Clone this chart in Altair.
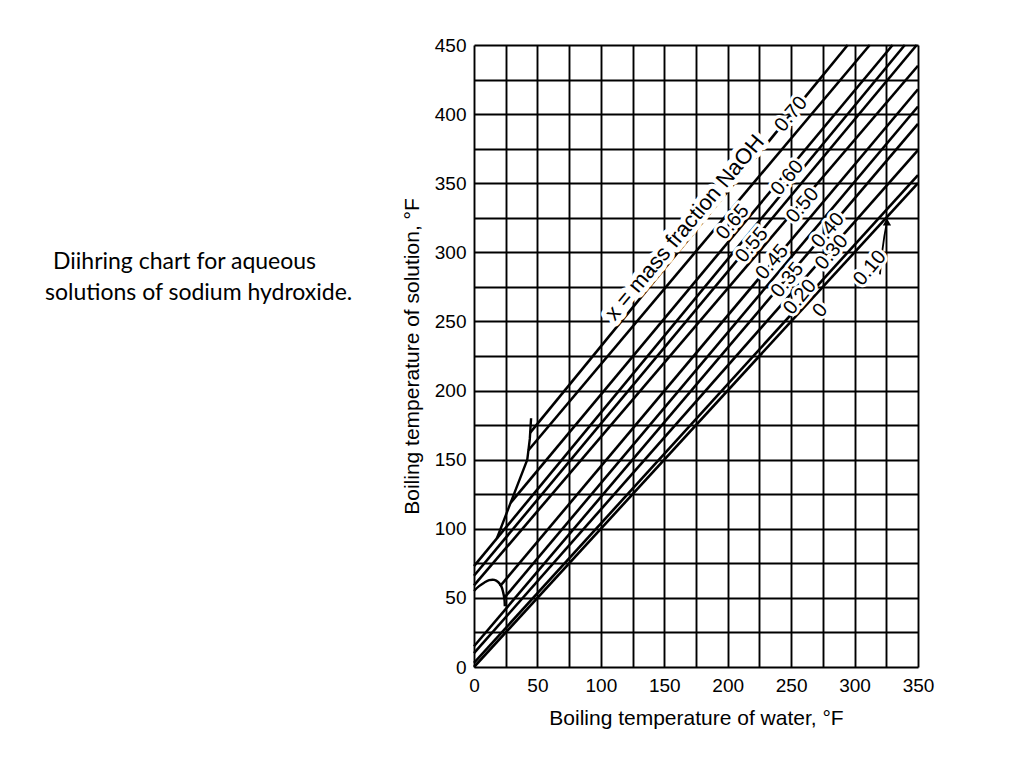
import altair as alt
import pandas as pd

# Duhring lines for NaOH solutions (deg F)
conc = ["0", "0.10", "0.20", "0.30", "0.35", "0.40", "0.45", "0.50", "0.55", "0.60", "0.65", "0.70"]
x_start = [0, 0, 0, 0, 23.5, 20.5, 0, 0, 0, 28.8, 42.9, 44.3]
y_start = [0, 3, 10, 15, 49.6, 58.4, 59, 66, 73, 118.7, 156.8, 169.6]
x_end = [350, 350, 350, 350, 350, 350, 350, 349, 339.6, 330, 312, 294.6]
y_end = [350, 355.8, 374, 393, 405.5, 418, 435, 450, 450, 450, 450, 450]

# solid-phase boundaries where the upper lines stop
upper_bx = [18, 42, 44, 45]
upper_by = [93, 150, 165, 180]
lower_bx = [0, 4, 8, 12, 16, 19, 21.5, 23, 24, 24.3]
lower_by = [55, 58.5, 61, 62.8, 63, 61.5, 58.5, 54, 49, 44]

# line labels placed in the gaps
label_text = ["0", "0.10", "0.20", "0.30", "0.35", "0.40", "0.45", "0.50", "0.55", "0.60", "0.65", "0.70"]
label_x = [273, 312, 257, 282, 247, 279, 235, 259, 219, 247, 204, 250]
label_y = [258, 288.6, 267.7, 300, 280, 316, 293, 334, 305.3, 354, 322, 400]

# leader arrow from the 0.10 label
arrow_x = [320, 322, 325.5]
arrow_y = [284, 302, 322]

x_grid = [0, 25, 50, 75, 100, 125, 150, 175, 200, 225, 250, 275, 300, 325, 350]
y_grid = [0, 25, 50, 75, 100, 125, 150, 175, 200, 225, 250, 275, 300, 325, 350, 375, 400, 425, 450]

note_line1 = "Diihring chart for aqueous"
note_line2 = "solutions of sodium hydroxide."

rows = []
for i, c in enumerate(conc):
    rows.append({"conc": c, "x": x_start[i], "y": y_start[i]})
    rows.append({"conc": c, "x": x_end[i], "y": y_end[i]})
lines_df = pd.DataFrame(rows)

upper_df = pd.DataFrame({"x": upper_bx, "y": upper_by})
lower_df = pd.DataFrame({"x": lower_bx, "y": lower_by, "k": list(range(len(lower_bx)))})
labels_df = pd.DataFrame({"label": label_text, "x": label_x, "y": label_y})
title_df = pd.DataFrame({"label": ["x = mass fraction NaOH"], "x": [166], "y": [318]})
arrow_df = pd.DataFrame({"x": arrow_x, "y": arrow_y})
tip_df = pd.DataFrame({"x": [arrow_x[-1]], "y": [arrow_y[-1]]})

FONT = "Liberation Sans"

x_enc = alt.X("x:Q",
              scale=alt.Scale(domain=[0, 350], nice=False, zero=False),
              axis=alt.Axis(values=x_grid,
                            labelExpr="datum.value % 50 == 0 ? datum.label : ''",
                            title="Boiling temperature of water, \u00b0F",
                            labelFlush=False, labelOverlap=False,
                            labelPadding=9, titlePadding=12))
y_enc = alt.Y("y:Q",
              scale=alt.Scale(domain=[0, 450], nice=False, zero=False),
              axis=alt.Axis(values=y_grid,
                            labelExpr="datum.value % 50 == 0 ? datum.label : ''",
                            title="Boiling temperature of solution, \u00b0F",
                            labelFlush=False, labelOverlap=False,
                            labelPadding=8, titlePadding=12))

duhring = alt.Chart(lines_df).mark_line(color="black", strokeWidth=2.6).encode(
    x=x_enc, y=y_enc, detail="conc:N"
)
upper = alt.Chart(upper_df).mark_line(color="black", strokeWidth=2.4).encode(x=x_enc, y=y_enc)
lower = alt.Chart(lower_df).mark_line(
    color="black", strokeWidth=2.4, interpolate="catmull-rom").encode(
    x=x_enc, y=y_enc, order="k:Q")

halo_labels = alt.Chart(labels_df).mark_text(
    font=FONT, fontSize=20, angle=310, color="white", stroke="white",
    strokeWidth=6, strokeJoin="round").encode(x=x_enc, y=y_enc, text="label:N")
text_labels = alt.Chart(labels_df).mark_text(
    font=FONT, fontSize=20, angle=310, color="black").encode(
    x=x_enc, y=y_enc, text="label:N")

halo_title = alt.Chart(title_df).mark_text(
    font=FONT, fontSize=22, angle=310, color="white", stroke="white",
    strokeWidth=10, strokeJoin="round").encode(x=x_enc, y=y_enc, text="label:N")
text_title = alt.Chart(title_df).mark_text(
    font=FONT, fontSize=22, angle=310, color="black").encode(
    x=x_enc, y=y_enc, text="label:N")

arrow = alt.Chart(arrow_df).mark_line(color="black", strokeWidth=1.8,
                                      interpolate="monotone").encode(x=x_enc, y=y_enc)
tip = alt.Chart(tip_df).mark_point(shape="triangle-up", filled=True, color="black",
                                   size=70, opacity=1).encode(x=x_enc, y=y_enc)

note1 = alt.Chart(title_df).mark_text(
    font="Lato", fontSize=23, align="left", baseline="middle", color="black",
    text=note_line1).encode(x=alt.value(-421), y=alt.value(217))
note2 = alt.Chart(title_df).mark_text(
    font="Lato", fontSize=23, align="left", baseline="middle", color="black",
    text=note_line2).encode(x=alt.value(-429), y=alt.value(248))

chart = alt.layer(
    duhring, upper, lower, arrow, tip,
    halo_labels, halo_title, text_labels, text_title, note1, note2
).properties(
    width=444, height=622,
    background="white",
    autosize=alt.AutoSizeParams(type="none"),
    padding={"left": 466, "top": 37, "right": 40, "bottom": 70}
).configure_view(
    strokeWidth=0
).configure_axis(
    grid=True, gridColor="black", gridWidth=1.9, gridOpacity=1,
    domain=False, ticks=False,
    labelFont=FONT, labelFontSize=19, labelColor="black",
    titleFont=FONT, titleFontSize=21, titleFontWeight="normal", titleColor="black"
)

chart.save("out.html", embed_options={"renderer": "svg", "actions": False})
